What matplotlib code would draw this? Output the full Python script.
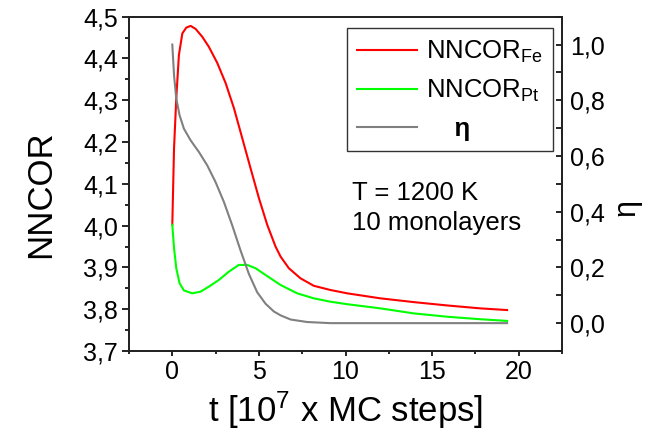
import matplotlib
matplotlib.use("Agg")
import matplotlib.pyplot as plt
from matplotlib.ticker import MultipleLocator, FuncFormatter

plt.rcParams['font.family'] = ['Liberation Sans', 'DejaVu Sans']
plt.rcParams['mathtext.fontset'] = 'custom'
plt.rcParams['mathtext.rm'] = 'Liberation Sans'
plt.rcParams['mathtext.it'] = 'Liberation Sans:italic'
plt.rcParams['mathtext.bf'] = 'Liberation Sans:bold'

# time axis in units of 10^7 MC steps
t_fe = [0.0, 0.10, 0.23, 0.38, 0.58, 0.81, 1.06, 1.34, 1.73, 2.11, 2.60, 3.08,
        3.56, 4.04, 4.52, 5.00, 5.48, 5.96, 6.25, 6.73, 7.40, 8.17, 9.13, 10.1,
        12.02, 13.94, 15.87, 17.79, 19.33]
nncor_fe = [4.002, 4.185, 4.305, 4.408, 4.460, 4.474, 4.478, 4.471, 4.452, 4.428,
            4.389, 4.341, 4.281, 4.209, 4.137, 4.066, 4.002, 3.950, 3.926, 3.898,
            3.874, 3.856, 3.846, 3.838, 3.826, 3.817, 3.809, 3.802, 3.798]

t_pt = [0.0, 0.10, 0.23, 0.42, 0.67, 1.15, 1.63, 2.11, 2.69, 3.27, 3.84, 4.33,
        4.81, 5.38, 5.96, 6.25, 7.21, 8.17, 9.13, 10.1, 12.02, 13.94, 15.87,
        17.79, 19.33]
nncor_pt = [4.002, 3.946, 3.898, 3.862, 3.845, 3.838, 3.842, 3.854, 3.870, 3.890,
            3.906, 3.906, 3.898, 3.882, 3.866, 3.858, 3.838, 3.826, 3.818, 3.812,
            3.802, 3.790, 3.782, 3.776, 3.772]

t_eta = [0.0, 0.10, 0.23, 0.42, 0.67, 1.06, 1.54, 2.02, 2.50, 2.98, 3.46, 3.94,
         4.42, 4.90, 5.38, 5.86, 6.25, 6.83, 7.79, 9.13, 12.0, 15.0, 19.33]
eta = [1.0, 0.890, 0.806, 0.746, 0.698, 0.656, 0.614, 0.566, 0.506, 0.435, 0.351,
       0.261, 0.177, 0.111, 0.070, 0.042, 0.028, 0.013, 0.004, 0.0, 0.0, 0.0, 0.0]

label_fe = r'NNCOR$_\mathrm{Fe}$'
label_pt = r'NNCOR$_\mathrm{Pt}$'
label_eta = '    η'
xlabel = r't [10$^7$ x MC steps]'
annotation = ['T = 1200 K', '10 monolayers']

comma = FuncFormatter(lambda v, p: f'{v:.1f}'.replace('.', ','))

fig = plt.figure(figsize=(6.53, 4.30), dpi=100)
ax = fig.add_axes([129 / 653, 1 - 351 / 430, 433 / 653, 334.3 / 430])
ax2 = ax.twinx()

l_fe, = ax.plot(t_fe, nncor_fe, color='#ff0000', lw=1.5, label=label_fe)
l_pt, = ax.plot(t_pt, nncor_pt, color='#00ff00', lw=1.5, label=label_pt)
l_eta, = ax2.plot(t_eta, eta, color='#808080', lw=1.5, label=label_eta)

ax.set_xlim(-2.5, 22.5)
ax.set_ylim(3.7, 4.5)
ax2.set_ylim(-0.1, 1.1)

ax.xaxis.set_major_locator(MultipleLocator(5))
ax.xaxis.set_minor_locator(MultipleLocator(2.5))
ax.yaxis.set_major_locator(MultipleLocator(0.1))
ax.yaxis.set_minor_locator(MultipleLocator(0.05))
ax.yaxis.set_major_formatter(comma)
ax2.yaxis.set_major_locator(MultipleLocator(0.2))
ax2.yaxis.set_minor_locator(MultipleLocator(0.1))
ax2.yaxis.set_major_formatter(comma)

for a in (ax, ax2):
    for s in a.spines.values():
        s.set_linewidth(1.3)
        s.set_color('#222222')

ax.tick_params(axis='y', which='major', direction='out', length=5, width=1.2,
               labelsize=18, pad=3, right=False)
ax.tick_params(axis='y', which='minor', direction='out', length=3.2, width=1.2, right=False)
ax.tick_params(axis='x', which='major', direction='out', length=3.8, width=1.2,
               labelsize=18, pad=3, top=False)
ax.tick_params(axis='x', which='minor', direction='out', length=2.4, width=1.2, top=False)
ax2.tick_params(axis='y', which='major', direction='in', length=4, width=1.2,
                labelsize=18, pad=6)
ax2.tick_params(axis='y', which='minor', direction='in', length=4, width=1.2)

ax.set_ylabel('NNCOR', fontsize=25)
ax.yaxis.label.set_va('baseline')
ax.yaxis.set_label_coords(-0.1824, 0.47)
ax2.set_ylabel('η', fontsize=22)
ax2.yaxis.label.set_va('baseline')
ax2.yaxis.set_label_coords(1.168, 0.43)
ax.set_xlabel(xlabel, fontsize=25)
ax.xaxis.label.set_va('baseline')
ax.xaxis.set_label_coords(0.5, -0.2115)

ax.text(10.4, 4.0615, annotation[0], fontsize=18.5, va='baseline', ha='left')
ax.text(10.4, 3.990, annotation[1], fontsize=18.5, va='baseline', ha='left')

leg = ax.legend(handles=[l_fe, l_pt, l_eta], loc='upper right',
                bbox_to_anchor=(0.9785, 0.9653), borderaxespad=0, fontsize=18.5,
                frameon=True, fancybox=False, framealpha=1, edgecolor='#333333',
                handlelength=2.33, handletextpad=0.32, borderpad=0.4,
                labelspacing=0.5)
leg.get_frame().set_linewidth(1.0)
leg.get_texts()[2].set_fontweight('bold')
# draw the eta curve above the left axes and the legend above everything
ax.set_zorder(0)
ax2.set_zorder(1)
ax2.patch.set_visible(False)
leg.remove()
ax2.add_artist(leg)

fig.savefig('out.png', dpi=100)
